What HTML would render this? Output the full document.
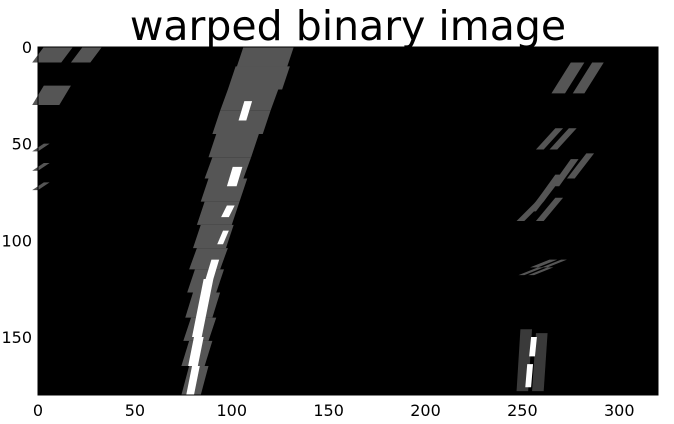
<!DOCTYPE html>
<html><head><meta charset="utf-8"><style>
html,body{margin:0;padding:0;background:#fff;}
svg{display:block;font-family:"DejaVu Sans","Liberation Sans",sans-serif;}
</style></head><body>
<svg id="chart" width="674" height="424" viewBox="0 0 674 424">
<text x="348" y="40" text-anchor="middle" font-size="41" fill="#000">warped binary image</text>
<rect x="38" y="47" width="620" height="348" fill="#000"/>
<g id="marks"></g>
<g id="axes"></g>
</svg>
<script>
// image data (image-space coords: y0, y1, x0, x1)
const leftGray = [
 [0,12,104,130],[10,22,100,128],[22,33,96,122],[33,45,92,118],[45,57,90,112],
 [57,68,88,108],[68,80,86,106],[80,92,84,102],[92,104,82,99],[104,115,80,96],
 [115,127,79,94],[127,140,78,92],[140,152,77,90],[152,165,76,88],[165,180,76,86]
];
const leftWhite = [
 [28,38,105,109],[62,72,99,104],[82,88,96,100],[95,102,94,97],[110,120,88,92],
 [120,135,84,89],[135,150,81,86],[150,165,79,84],[165,180,78,82]
];
const cornerGray = [
 [0,8,0,15],[0,8,20,30],[20,30,0,14],[50,54,0,3],[60,64,0,3],[70,74,0,3]
];
const rightGray = [
 [8,24,270,277],[8,24,281,287],[42,53,262,266],[42,53,269,273],[55,68,278,282],
 [58,72,270,274],[66,80,262,266],[72,85,258,262],[78,90,262,266],[80,90,252,256],
 [110,114,259,263],[110,114,265,268],[114,118,253,256],[114,118,258,261]
];
const rightSpeck = [[146,178,248,254],[148,178,256,262]];
const rightWhite = [[150,160,254,257],[164,176,252,255]];
const xTicks = [0,50,100,150,200,250,300];
const yTicks = [0,50,100,150];
const X0=38, X1=658, Y0=47, Y1=395, W=320, H=180;
const sx = v => X0 + v*(X1-X0)/W;
const sy = v => Y0 + v*(Y1-Y0)/H;
const NS="http://www.w3.org/2000/svg";
const marks=document.getElementById('marks');
const axes=document.getElementById('axes');
function para(r, fill, name, shear){
  const s = shear===undefined ? 4 : shear;
  const p=document.createElementNS(NS,'polygon');
  const pts=[[sx(r[2]+s/2),sy(r[0])],[sx(r[3]+s/2),sy(r[0])],[sx(r[3]-s/2),sy(r[1])],[sx(r[2]-s/2),sy(r[1])]];
  p.setAttribute('points',pts.map(q=>q.join(',')).join(' '));
  p.setAttribute('fill',fill);
  
  
  marks.appendChild(p);
}
leftGray.forEach(r=>para(r,'#555','left-lane-gray'));
cornerGray.forEach(r=>para(r,'#555','corner-gray',6));
rightGray.forEach(r=>para(r,'#555','right-lane-gray',10));
rightSpeck.forEach(r=>para(r,'#3a3a3a','right-lane-speckle',2));
leftWhite.forEach(r=>para(r,'#fff','left-lane-white',3));
rightWhite.forEach(r=>para(r,'#fff','right-lane-white',1));
const frame=document.createElementNS(NS,'rect');
frame.setAttribute('x',X0);frame.setAttribute('y',Y0);frame.setAttribute('width',X1-X0);frame.setAttribute('height',Y1-Y0);
frame.setAttribute('fill','none');frame.setAttribute('stroke','#000');


axes.appendChild(frame);
xTicks.forEach(v=>{
  const t=document.createElementNS(NS,'text');
  t.setAttribute('x',sx(v));t.setAttribute('y',Y1+21);t.setAttribute('text-anchor','middle');t.setAttribute('font-size','16');
  t.textContent=v;
  
  
  axes.appendChild(t);
});
yTicks.forEach(v=>{
  const t=document.createElementNS(NS,'text');
  t.setAttribute('x',X0-6);t.setAttribute('y',sy(v)+6);t.setAttribute('text-anchor','end');t.setAttribute('font-size','16');
  t.textContent=v;
  
  
  axes.appendChild(t);
});
</script>
</body></html>
